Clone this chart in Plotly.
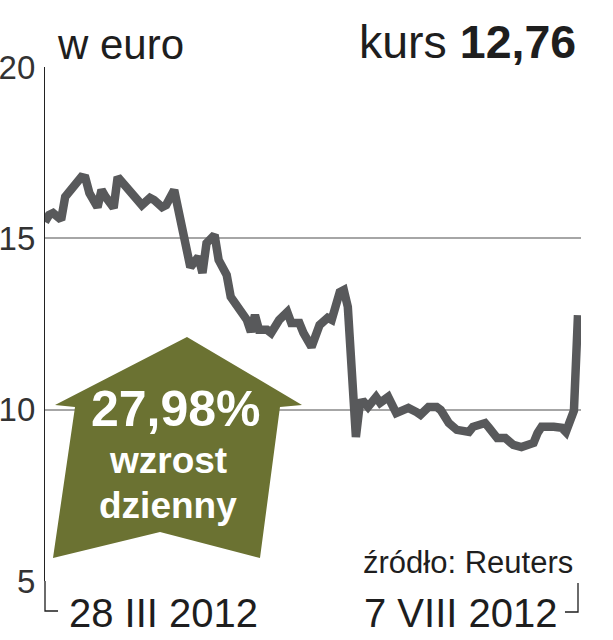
import plotly.graph_objects as go

# ---- data ----
dates = [
    "2012-03-28", "2012-03-29", "2012-03-30", "2012-04-01", "2012-04-02", "2012-04-03",
    "2012-04-04", "2012-04-05", "2012-04-06", "2012-04-07", "2012-04-08", "2012-04-10",
    "2012-04-11", "2012-04-12", "2012-04-14", "2012-04-15", "2012-04-16", "2012-04-18",
    "2012-04-20", "2012-04-21", "2012-04-23", "2012-04-24", "2012-04-26", "2012-04-27",
    "2012-04-29", "2012-04-30", "2012-05-01", "2012-05-02", "2012-05-03", "2012-05-05",
    "2012-05-06", "2012-05-07", "2012-05-09", "2012-05-10", "2012-05-11", "2012-05-12",
    "2012-05-13", "2012-05-15", "2012-05-17", "2012-05-18", "2012-05-19", "2012-05-20",
    "2012-05-22", "2012-05-23", "2012-05-25", "2012-05-27", "2012-05-28", "2012-05-30",
    "2012-05-31", "2012-06-02", "2012-06-03", "2012-06-04", "2012-06-06", "2012-06-07",
    "2012-06-09", "2012-06-10", "2012-06-11", "2012-06-12", "2012-06-13", "2012-06-14",
    "2012-06-15", "2012-06-16", "2012-06-18", "2012-06-19", "2012-06-21", "2012-06-23",
    "2012-06-25", "2012-06-26", "2012-06-28", "2012-06-29", "2012-07-01", "2012-07-03",
    "2012-07-04", "2012-07-06", "2012-07-08", "2012-07-11", "2012-07-12", "2012-07-15",
    "2012-07-16", "2012-07-18", "2012-07-20", "2012-07-21", "2012-07-22", "2012-07-24",
    "2012-07-27", "2012-07-28", "2012-07-29", "2012-08-01", "2012-08-03", "2012-08-04",
    "2012-08-05", "2012-08-06", "2012-08-07",
]
prices = [
    15.48, 15.68, 15.74, 15.54, 16.21, 16.35,
    16.50, 16.70, 16.79, 16.76, 16.32, 15.91,
    16.41, 16.21, 15.89, 16.79, 16.64, 16.41,
    16.12, 15.97, 16.18, 16.12, 15.91, 15.97,
    16.41, 15.91, 15.24, 14.66, 14.16, 14.46,
    13.99, 14.86, 15.10, 14.37, 14.13, 13.93,
    13.29, 13.00, 12.62, 12.27, 12.76, 12.33,
    12.33, 12.24, 12.62, 12.85, 12.53, 12.53,
    12.24, 11.83, 12.12, 12.47, 12.68, 12.62,
    13.43, 13.49, 13.00, 11.16, 9.20, 10.20,
    10.22, 10.08, 10.37, 10.20, 10.37, 9.90,
    9.99, 10.05, 9.93, 9.85, 10.08, 10.08,
    9.99, 9.61, 9.41, 9.35, 9.50, 9.61,
    9.47, 9.17, 9.17, 9.03, 8.97, 8.91,
    9.03, 9.32, 9.50, 9.50, 9.47, 9.35,
    9.60, 9.97, 12.76,
]
y_ticks = [5, 10, 15, 20]
y_tick_labels = ["5", "10", "15", "20"]
unit_label = "w euro"
last_price_label = "12,76"
change_label = "27,98%"
change_lines = ["wzrost", "dzienny"]
start_label = "28 III 2012"
end_label = "7 VIII 2012"
source_label = "źródło: Reuters"

# ---- layout geometry (pixels) ----
W, H = 613, 640
L, R, T, B = 45, 581, 67, 581  # plot area edges


def px(x):
    return (x - L) / (R - L)


def py(y):
    return (B - y) / (B - T)


LINE_COL = "#58595b"
OLIVE = "#6b7232"
GRID = "#a6a6a6"
TXT = "#1e1e1e"
NARROW = "Liberation Sans Narrow, Arial Narrow, sans-serif"
SANS = "Liberation Sans, Arial, sans-serif"

fig = go.Figure()

fig.add_trace(go.Scatter(
    x=dates, y=prices, mode="lines",
    line=dict(color=LINE_COL, width=8.5),
    hoverinfo="skip", showlegend=False,
))

shapes = []
# arrow
arrow_pts = [(187, 337), (302, 405), (280, 407), (260, 558), (160, 532),
             (53, 558), (75, 407), (55, 405)]
path = "M " + " L ".join(f"{px(a):.4f},{py(b):.4f}" for a, b in arrow_pts) + " Z"
shapes.append(dict(type="path", path=path, xref="paper", yref="paper",
                   fillcolor=OLIVE, line=dict(width=0), layer="above"))
# bracket marks under the axis
shapes.append(dict(type="path", xref="paper", yref="paper",
                   path=f"M {px(45):.4f},{py(581):.4f} L {px(45):.4f},{py(611):.4f} L {px(58):.4f},{py(611):.4f}",
                   line=dict(color=TXT, width=1.3)))
shapes.append(dict(type="path", xref="paper", yref="paper",
                   path=f"M {px(578):.4f},{py(583):.4f} L {px(578):.4f},{py(612):.4f} L {px(565):.4f},{py(612):.4f}",
                   line=dict(color=TXT, width=1.3)))


def ann(text, x, y, size, family, color, xanchor="center", yanchor="middle"):
    return dict(text=text, x=px(x), y=py(y), xref="paper", yref="paper",
                xanchor=xanchor, yanchor=yanchor, showarrow=False,
                borderpad=0, borderwidth=0,
                font=dict(family=family, size=size, color=color))


annotations = [
    ann(unit_label, 57, 68, 42, NARROW, TXT, xanchor="left", yanchor="bottom"),
    ann(f"kurs <b>{last_price_label}</b>", 576, 68, 46.5, NARROW, TXT,
        xanchor="right", yanchor="bottom"),
    ann(f"<b>{change_label}</b>", 176, 409, 50, SANS, "white"),
    ann(f"<b>{change_lines[0]}</b>", 168, 461, 37, SANS, "white"),
    ann(f"<b>{change_lines[1]}</b>", 168, 505, 37, SANS, "white"),
    ann(source_label, 573, 562, 31, NARROW, TXT, xanchor="right"),
    ann(start_label, 163, 613, 40, SANS, TXT),
    ann(end_label, 460, 613, 40, SANS, TXT),
]

fig.update_layout(
    width=W, height=H,
    margin=dict(l=L, r=W - R, t=T, b=H - B, pad=0, autoexpand=False),
    paper_bgcolor="white", plot_bgcolor="white",
    showlegend=False,
    shapes=shapes, annotations=annotations,
    xaxis=dict(range=["2012-03-28", "2012-08-07 18:00"], showgrid=False, showticklabels=False,
               ticks="", zeroline=False, showline=False, fixedrange=True, automargin=False),
    yaxis=dict(range=[5, 20], tickvals=y_ticks, ticktext=y_tick_labels,
               showgrid=True, gridcolor=GRID, gridwidth=1.5, zeroline=False,
               showline=True, linecolor="#222222", linewidth=1.2, ticks="",
               ticklabelstandoff=2, automargin=False,
               tickfont=dict(family=NARROW, size=33, color="#333333"), fixedrange=True),
)

fig.write_html(
    "out.html",
    config={"displayModeBar": False},
    post_script="document.body.style.margin='0';document.body.style.overflow='hidden';",
)
